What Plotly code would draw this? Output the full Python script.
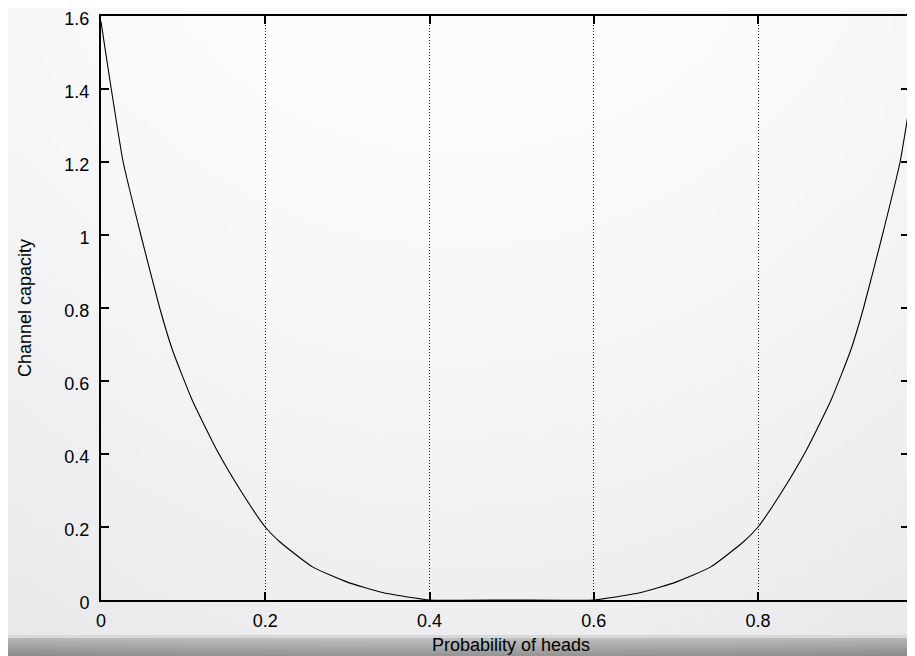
import base64, struct, zlib
import plotly.graph_objects as go

# ---- data ----
p_left = [0.0, 0.004, 0.0125, 0.027, 0.0485, 0.0715, 0.087, 0.111, 0.141, 0.17, 0.2,
          0.218, 0.258, 0.30, 0.34, 0.38, 0.4]
c_left = [1.585, 1.525, 1.40, 1.20, 1.00, 0.80, 0.685, 0.548, 0.411, 0.30, 0.20,
          0.159, 0.090, 0.049, 0.022, 0.006, 0.0]
p_mid = [0.4, 0.5, 0.6]
c_mid = [0.0, 0.0, 0.0]
p_right = [0.6, 0.62, 0.66, 0.70, 0.742, 0.782, 0.8, 0.83, 0.859, 0.889, 0.913,
           0.9285, 0.9515, 0.973, 0.9875, 0.991]
c_right = [0.0, 0.006, 0.022, 0.049, 0.090, 0.159, 0.20, 0.30, 0.411, 0.548, 0.685,
           0.80, 1.00, 1.20, 1.40, 1.47]

x_ticks = [0, 0.2, 0.4, 0.6, 0.8]
x_labels = ["0", "0.2", "0.4", "0.6", "0.8"]
y_ticks = [0, 0.2, 0.4, 0.6, 0.8, 1.0, 1.2, 1.4, 1.6]
y_labels = ["0", "0.2", "0.4", "0.6", "0.8", "1", "1.2", "1.4", "1.6"]
x_title = "Probability of heads"
y_title = "Channel capacity"

# The page body has an 8px default margin, so the figure is drawn smaller.
W, H = 899, 648
IW, IH = 92, 648


def bg_pixel(ix, iy):
    y = iy
    xf = abs(ix / (IW - 1) - 0.5) * 2
    if y < 627:
        v = 253 - 15 * ((y + 8) / 632) ** 1.4 - 5 * xf ** 2
        return (int(v), int(v), int(min(255, v + 2)))
    if y < 630:
        return (216, 216, 218)
    t = (y - 630) / (H - 630)
    v = 192 - 45 * t - 10 * xf ** 2
    return (int(v), int(v), int(v))


rows = []
for iy in range(IH):
    row = bytearray([0])
    for ix in range(IW):
        row.extend(bg_pixel(ix, iy))
    rows.append(bytes(row))
raw = b"".join(rows)


def chunk(tag, data):
    c = struct.pack(">I", len(data)) + tag + data
    return c + struct.pack(">I", zlib.crc32(tag + data) & 0xFFFFFFFF)


png = b"\x89PNG\r\n\x1a\n" + chunk(b"IHDR", struct.pack(">IIBBBBB", IW, IH, 8, 2, 0, 0, 0)) \
    + chunk(b"IDAT", zlib.compress(raw, 9)) + chunk(b"IEND", b"")
bg_uri = "data:image/png;base64," + base64.b64encode(png).decode()

ML, MR, MT, MB = 93, 0, 8, 56
PW, PH = W - ML - MR, H - MT - MB

fig = go.Figure()
fig.add_trace(go.Scatter(x=p_left + p_mid[1:] + p_right[1:],
                         y=c_left + c_mid[1:] + c_right[1:],
                         mode="lines", line=dict(color="black", width=1.1,
                                                 shape="spline", smoothing=0.5),
                         showlegend=False, hoverinfo="skip"))
# invisible trace to carry the right-hand mirrored ticks
fig.add_trace(go.Scatter(x=[0], y=[0], yaxis="y2", mode="markers",
                         marker=dict(opacity=0), showlegend=False, hoverinfo="skip"))

font = dict(family="Liberation Sans, Arial, Helvetica, sans-serif", size=18, color="black")

x_max = PW / (164.25 / 0.2)

fig.update_layout(
    width=W, height=H,
    margin=dict(l=ML, r=MR, t=MT, b=MB, pad=0, autoexpand=False),
    paper_bgcolor="rgba(0,0,0,0)",
    plot_bgcolor="rgba(0,0,0,0)",
    font=font,
    images=[dict(source=bg_uri, xref="paper", yref="paper",
                 x=-ML / PW, y=1 + MT / PH, sizex=W / PW, sizey=H / PH,
                 sizing="stretch", layer="below", xanchor="left", yanchor="top")],
    annotations=[dict(text=x_title, xref="paper", yref="paper",
                      x=(511 - 8 - ML) / PW, y=-45 / PH, xanchor="center", yanchor="middle",
                      showarrow=False, font=font)],
    xaxis=dict(range=[0, x_max], tickvals=x_ticks, ticktext=x_labels,
               ticks="inside", ticklen=8, tickwidth=1.5, tickcolor="black",
               showline=True, linecolor="black", linewidth=2, mirror="ticks",
               showgrid=True, gridcolor="#222222", gridwidth=1, griddash="1px,2px",
               zeroline=False, ticklabelstandoff=3, automargin=False,
               ticklabeloverflow="allow", tickfont=font),
    yaxis=dict(range=[0, 1.6], tickvals=y_ticks, ticktext=y_labels,
               ticks="inside", ticklen=8, tickwidth=1.5, tickcolor="black",
               showline=True, linecolor="black", linewidth=2,
               showgrid=False, zeroline=False, ticklabelstandoff=6, automargin=False,
               ticklabeloverflow="allow", ticklabelshift=3,
               title=dict(text=y_title, font=font, standoff=28),
               tickfont=font),
    yaxis2=dict(range=[0, 1.6], tickvals=y_ticks, overlaying="y", side="right",
                ticks="inside", ticklen=6, tickwidth=1.5, tickcolor="black",
                showline=False, showgrid=False, zeroline=False, automargin=False,
                showticklabels=False),
)

fig.write_html("out.html")
